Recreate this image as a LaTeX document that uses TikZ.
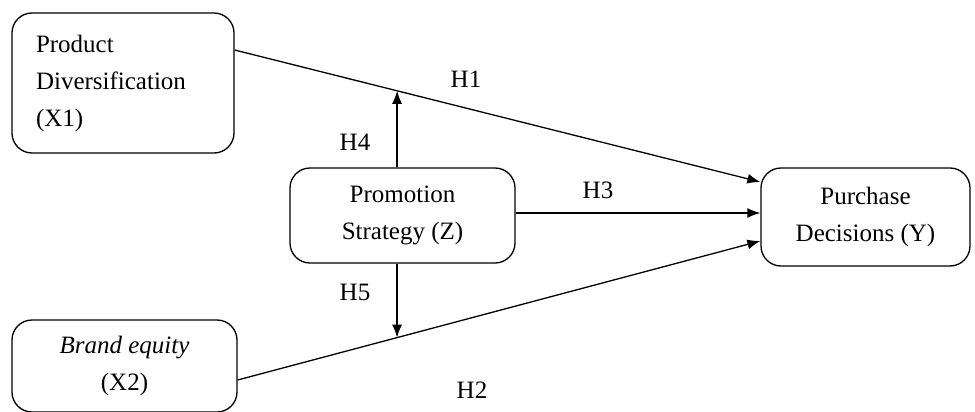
\documentclass[tikz,border=0pt]{standalone}
\usepackage{fontspec}
\setmainfont{Liberation Serif}
\usetikzlibrary{arrows.meta,calc}
\begin{document}
\begin{tikzpicture}[x=1pt,y=-1pt,
  box/.style={draw, line width=1.3pt, rounded corners=20pt, inner sep=0pt, align=center,
    font=\fontsize{25}{37}\selectfont},
  lab/.style={font=\fontsize{25}{28}\selectfont, inner sep=0pt},
  arr/.style={line width=1.3pt, -{Latex[length=13pt,width=10pt]}}]
\useasboundingbox (0,0) rectangle (975,412);
\node[box, minimum width=222pt, minimum height=140pt, text width=174pt, align=left] (x1) at (123,83) {Product\\Diversification\\(X1)};
\node[box, minimum width=225pt, minimum height=92pt] (x2) at (124.5,366) {\textit{Brand equity}\\(X2)};
\node[box, minimum width=225pt, minimum height=95pt] (z) at (402.5,215.5) {Promotion\\Strategy (Z)};
\node[box, minimum width=209pt, minimum height=98pt] (y) at (865.5,217) {Purchase\\Decisions (Y)};
\draw[arr] ([yshift=33pt]x1.east) -- coordinate[pos=0.309] (m1) ([yshift=35pt]y.west);
\draw[arr] ([yshift=-14pt]x2.east) -- coordinate[pos=0.305] (m2) ([yshift=-24pt]y.west);
\coordinate (h3) at ([yshift=4pt]y.west);
\draw[arr] (z.east |- h3) -- (h3);
\draw[arr] (m1 |- z.north) -- (m1);
\draw[arr] (m2 |- z.south) -- (m2);
\node[lab] (l1) at (466,79) {H1};
\node[lab] (l4) at (355,142) {H4};
\node[lab] (l3) at (598,190) {H3};
\node[lab] (l5) at (355,292) {H5};
\node[lab] (l2) at (472,390) {H2};
\end{tikzpicture}
\end{document}
